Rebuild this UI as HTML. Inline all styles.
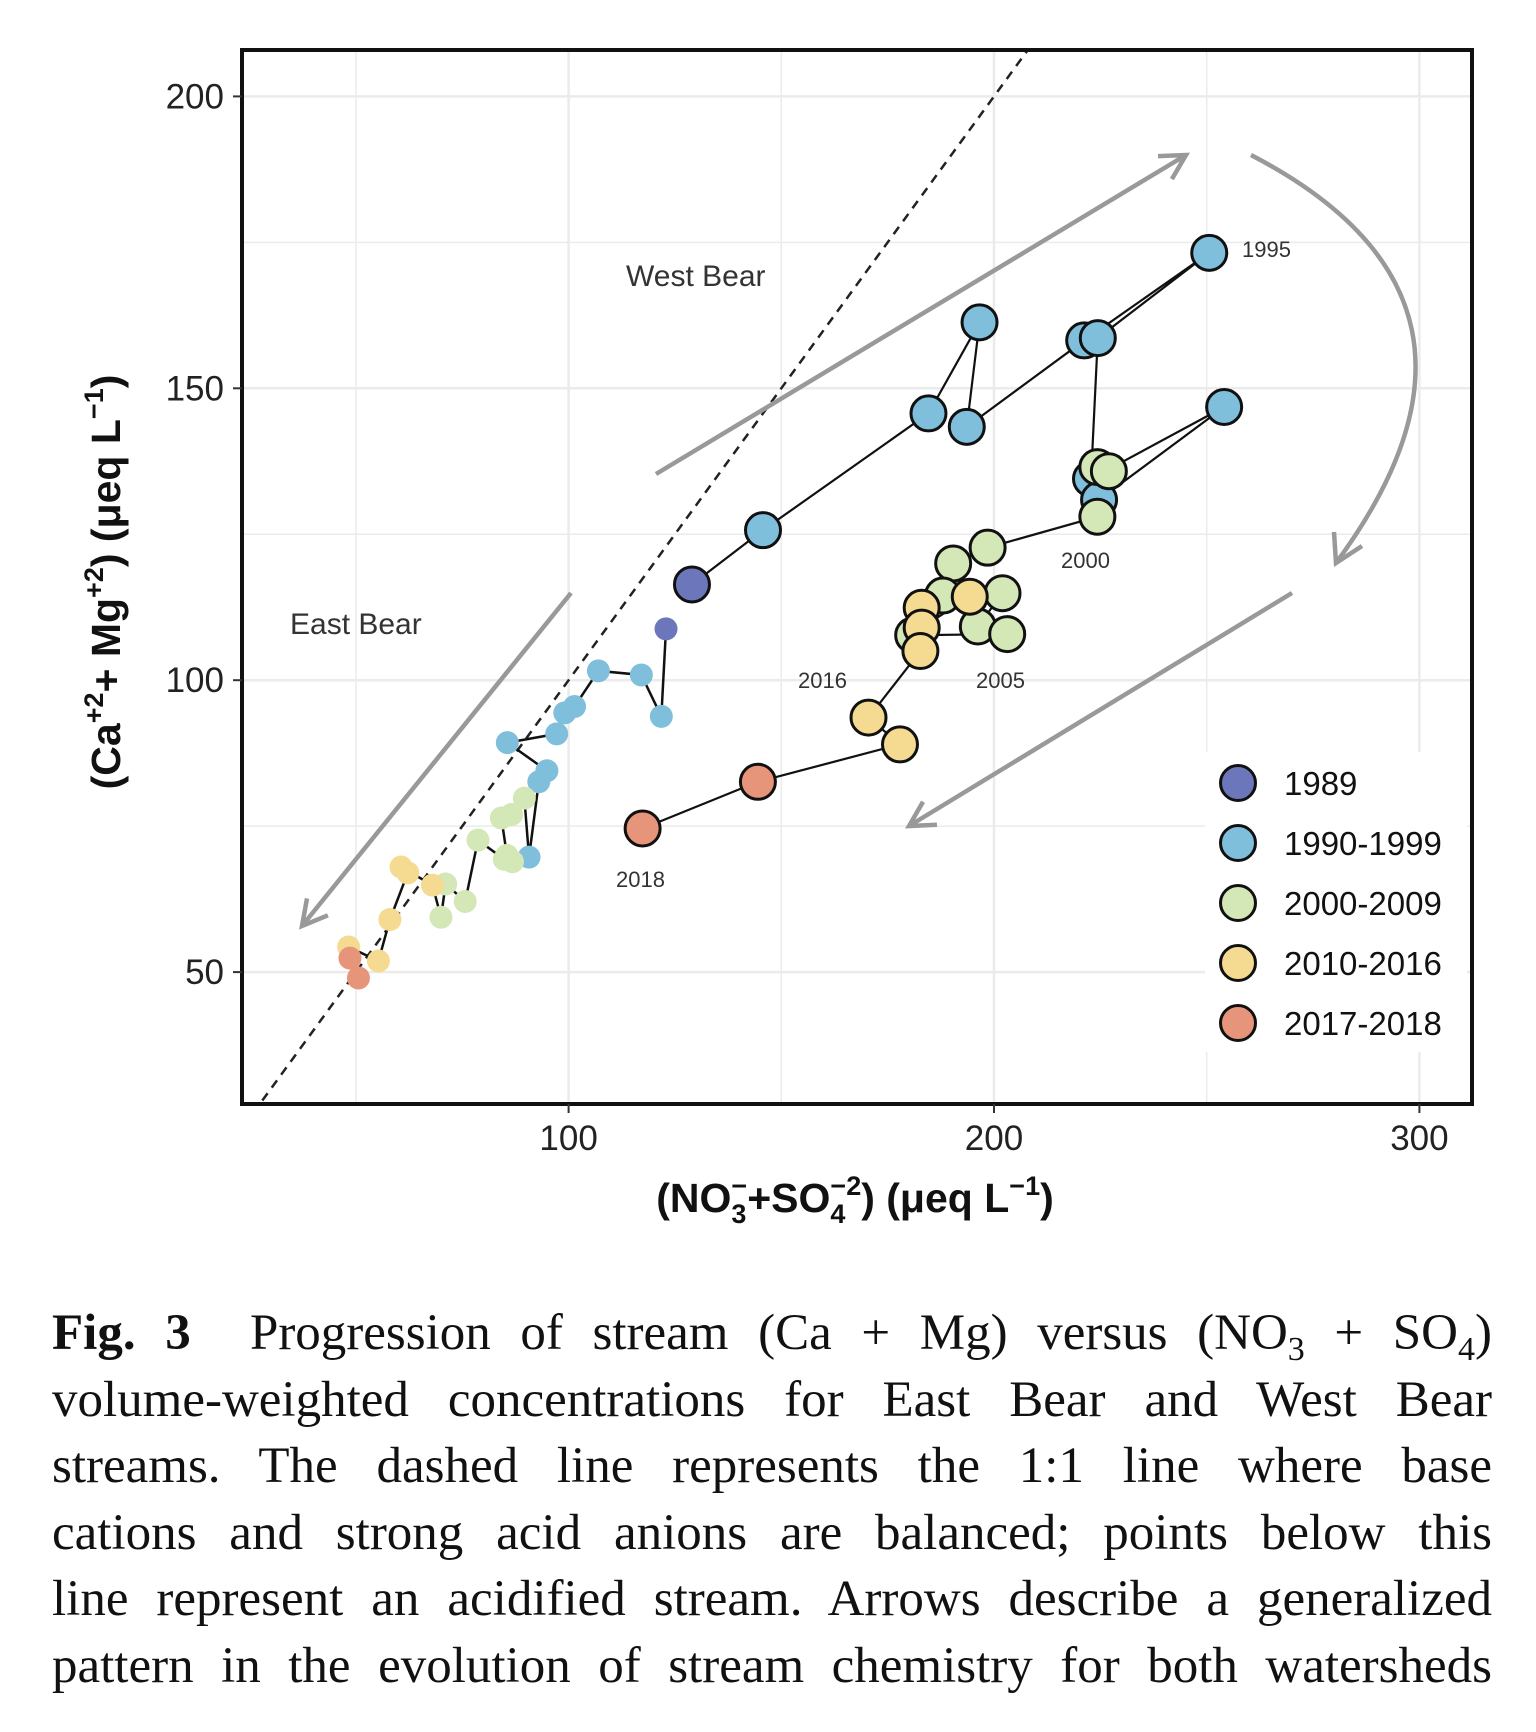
<!DOCTYPE html>
<html><head><meta charset="utf-8"><style>
html,body{margin:0;padding:0;background:#fff;}
body{width:1536px;height:1732px;position:relative;overflow:hidden;}
#chart{position:absolute;left:0;top:0;}
.cap{position:absolute;left:52px;width:1440px;font-family:"Liberation Serif",serif;font-size:51px;color:#111;}
.cap div{text-align:justify;text-align-last:justify;height:66.5px;line-height:66.5px;white-space:nowrap;}
</style></head><body>
<svg id="chart" width="1536" height="1280" xmlns="http://www.w3.org/2000/svg" font-family="Liberation Sans, sans-serif"></svg>
<div class="cap" style="top:1300px">
<div><b>Fig. 3</b>&nbsp; Progression of stream (Ca + Mg) versus (NO<sub style="font-size:34px">3</sub> + SO<sub style="font-size:34px">4</sub>)</div>
<div>volume-weighted concentrations for East Bear and West Bear</div>
<div>streams. The dashed line represents the 1:1 line where base</div>
<div>cations and strong acid anions are balanced; points below this</div>
<div>line represent an acidified stream. Arrows describe a generalized</div>
<div>pattern in the evolution of stream chemistry for both watersheds</div>
</div>
<script>
const xTicks=[100,200,300];
const yTicks=[50,100,150,200];
const groups=['1989','1990-1999','2000-2009','2010-2016','2017-2018'];
const colors=['#6c76ba','#80bfdb','#d4e7b6','#f5da91','#e6957b'];
// West Bear (large points)
const westX=[129,145.7,184.6,196.6,193.6,221.2,250.6,224.4,222.8,254.1,224.7,224.3,227,224.3,198.5,190.4,188,202,196.2,203.1,181,183,194.3,183,182.7,170.5,177.9,144.5,117.4];
const westY=[116.4,125.7,145.7,161.3,143.4,158.2,173.2,158.6,134.5,146.8,130.9,136.5,135.8,128,122.7,120,114.5,114.9,109.2,107.9,107.7,112.4,114.3,109,105,93.6,89,82.6,74.6];
const westG=[0,1,1,1,1,1,1,1,1,1,1,2,2,2,2,2,2,2,2,2,2,3,3,3,3,3,3,4,4];
// East Bear (small points)
const eastX=[122.9,121.8,117.1,107,101.4,99.1,97.2,85.6,94.9,93,90.7,89.6,86.6,84.2,85.5,86.8,84.9,78.7,75.7,71.1,70,68,60.6,62.2,58,55.3,48.3,48.6,50.6];
const eastY=[108.8,93.8,100.9,101.6,95.5,94.4,90.8,89.3,84.5,82.6,69.7,79.8,77,76.4,70,68.9,69.3,72.6,62.1,65.1,59.4,64.9,68,67,59,51.9,54.3,52.4,49];
const eastG=[0,1,1,1,1,1,1,1,1,1,1,2,2,2,2,2,2,2,2,2,2,3,3,3,3,3,3,4,4];
const yearLabels=['1995','2000','2016','2005','2018'];

const svg=document.getElementById('chart');
const NS='http://www.w3.org/2000/svg';
const L=242,R=1472,T=50,B=1104;
const sx=v=>568.6+(v-100)*4.254;
const sy=v=>96.4+(200-v)*5.838;
function mk(tag,attrs,parent){const e=document.createElementNS(NS,tag);for(const k in attrs)e.setAttribute(k,attrs[k]);(parent||svg).appendChild(e);return e;}

const grid=mk('g',{});


[50,150,250,100,200,300].forEach(v=>{mk('line',{x1:sx(v),x2:sx(v),y1:T,y2:B,stroke:'#ebebeb','stroke-width':v%100?1.5:2.5},grid);});
[50,75,100,125,150,175,200].forEach(v=>{mk('line',{x1:L,x2:R,y1:sy(v),y2:sy(v),stroke:'#ebebeb','stroke-width':v%50?1.5:2.5},grid);});

const d1=mk('line',{x1:sx(28),y1:sy(28),x2:sx(207.7),y2:sy(207.7),stroke:'#222','stroke-width':2.5,'stroke-dasharray':'9,7'});



const ag=mk('g',{stroke:'#999','stroke-width':4.5,fill:'none'});


function arrow(x1,y1,x2,y2){mk('line',{x1,y1,x2,y2},ag);const a=Math.atan2(y2-y1,x2-x1),h=28;
 mk('polyline',{points:`${x2-h*Math.cos(a-0.5)},${y2-h*Math.sin(a-0.5)} ${x2},${y2} ${x2-h*Math.cos(a+0.5)},${y2-h*Math.sin(a+0.5)}`},ag);}
arrow(656,474,1186,155);
arrow(1292,593,909,826);
arrow(571,593,302,926);
mk('path',{d:'M1251,155 Q1530,300 1336,563'},ag);
mk('polyline',{points:'1334,532 1336,563 1362,546'},ag);

function path(xs,ys,w,name){const p=mk('polyline',{points:xs.map((x,i)=>sx(x)+','+sy(ys[i])).join(' '),fill:'none',stroke:'#111','stroke-width':w});
 }
path(eastX,eastY,2.5,'east-bear-path');
path(westX,westY,2.2,'west-bear-path');

eastX.forEach((x,i)=>{const c=mk('circle',{cx:sx(x),cy:sy(eastY[i]),r:11.5,fill:colors[eastG[i]]});
 
 });
westX.forEach((x,i)=>{const c=mk('circle',{cx:sx(x),cy:sy(westY[i]),r:17.5,fill:colors[westG[i]],stroke:'#111','stroke-width':3});
 
 });

const ylx=[1242,1061,798,976,616], yly=[257,568,688,688,887];
yearLabels.forEach((t,i)=>{const e=mk('text',{x:ylx[i],y:yly[i],'font-size':22,fill:'#333'});e.textContent=t;
 
 });

const wb=mk('text',{x:626,y:286,'font-size':30,fill:'#333'});wb.textContent='West Bear';


const eb=mk('text',{x:290,y:634,'font-size':30,fill:'#333'});eb.textContent='East Bear';



const lg=mk('g',{});


mk('rect',{x:1205,y:752,width:262,height:300,fill:'#fff'},lg);
groups.forEach((g,i)=>{const y=783+i*60;
 const c=mk('circle',{cx:1238,cy:y,r:17.5,fill:colors[i],stroke:'#111','stroke-width':3},lg);
 
 
 const t=mk('text',{x:1284,y:y+12,'font-size':33,fill:'#111'},lg);t.textContent=g;
 
 });

const fr=mk('rect',{x:L,y:T,width:R-L,height:B-T,fill:'none',stroke:'#111','stroke-width':4});



xTicks.forEach(v=>{mk('line',{x1:sx(v),x2:sx(v),y1:B,y2:B+9,stroke:'#333','stroke-width':2});
 const t=mk('text',{x:sx(v),y:1150,'font-size':35,'text-anchor':'middle',fill:'#222'});t.textContent=v;
 
 });
yTicks.forEach(v=>{mk('line',{x1:L-9,x2:L,y1:sy(v),y2:sy(v),stroke:'#333','stroke-width':2});
 const t=mk('text',{x:224,y:sy(v)+12,'font-size':35,'text-anchor':'end',fill:'#222'});t.textContent=v;
 
 });

const xt=mk('text',{x:855,y:1212,'font-size':41,'font-weight':'bold','text-anchor':'middle',fill:'#111'});
xt.innerHTML='(NO<tspan dy="11" font-size="27">3</tspan><tspan dy="-28" dx="-15" font-size="27">−</tspan><tspan dy="17">+SO</tspan><tspan dy="11" font-size="27">4</tspan><tspan dy="-28" dx="-15" font-size="27">−2</tspan><tspan dy="17">) (μeq L</tspan><tspan dy="-17" font-size="27">−1</tspan><tspan dy="17">)</tspan>';


const yt=mk('text',{x:0,y:0,'font-size':41,'font-weight':'bold','text-anchor':'middle',fill:'#111',transform:'translate(120,582) rotate(-90)'});
yt.innerHTML='(Ca<tspan dy="-17" font-size="27">+2</tspan><tspan dy="17">+ Mg</tspan><tspan dy="-17" font-size="27">+2</tspan><tspan dy="17">) (μeq L</tspan><tspan dy="-17" font-size="27">−1</tspan><tspan dy="17">)</tspan>';



// keep caption lines inside width
document.querySelectorAll('.cap div').forEach(d=>{let ls=0;while(d.scrollWidth>1440&&ls>-3){ls-=0.25;d.style.letterSpacing=ls+'px';}});
</script>
</body></html>
